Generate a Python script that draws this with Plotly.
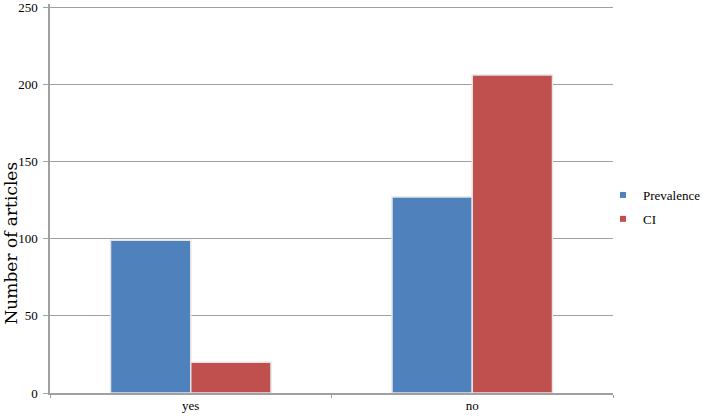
import plotly.graph_objects as go

categories = ["yes", "no"]
prevalence = [99, 127]
ci = [20, 206]
series_names = ["Prevalence", "CI"]
colors = ["#4F81BD", "#C0504D"]
y_ticks = [0, 50, 100, 150, 200, 250]
y_title = "Number of articles"

serif = "Liberation Serif, Times New Roman, serif"

fig = go.Figure()
for name, vals, col in zip(series_names, [prevalence, ci], colors):
    fig.add_trace(go.Bar(
        x=categories, y=vals, name=name, showlegend=False,
        marker=dict(color=col, line=dict(color="#E4E4E4", width=1.5)),
    ))
# legend proxies with small square markers
for name, col in zip(series_names, colors):
    fig.add_trace(go.Scatter(
        x=[None], y=[None], mode="markers", name=name, legendgroup=name,
        marker=dict(symbol="square", size=6, color=col),
    ))

fig.update_layout(
    width=702, height=417,
    margin=dict(l=50, r=89, t=4, b=24, autoexpand=False),
    paper_bgcolor="white", plot_bgcolor="white",
    barmode="group", bargap=0.43, bargroupgap=0.0,
    font=dict(family=serif, color="#000000", size=13),
    showlegend=True,
    legend=dict(xref="container", yref="container",
                x=603 / 702, y=1 - 207 / 417, xanchor="left", yanchor="middle",
                bgcolor="rgba(0,0,0,0)", font=dict(size=13, family=serif),
                itemwidth=30, tracegroupgap=4),
    xaxis=dict(showline=True, linecolor="#A0A0A0", linewidth=1.5,
               ticks="outside", ticklen=3, tickcolor="#A0A0A0",
               tickson="boundaries", showgrid=False, automargin=False,
               ticklabeloverflow="allow",
               tickfont=dict(size=13, family=serif)),
    yaxis=dict(range=[0, 252], tickvals=y_ticks, showline=True,
               linecolor="#A0A0A0", linewidth=1.5, gridcolor="#A0A0A0",
               gridwidth=1.2, ticks="outside", ticklen=5, tickcolor="#A0A0A0",
               zeroline=False, automargin=False, ticklabelstandoff=3,
               ticklabeloverflow="allow",
               tickfont=dict(size=13, family=serif)),
    annotations=[dict(
        text=y_title, textangle=-90, showarrow=False,
        xref="paper", yref="paper", x=-50 / 563, y=(393 - 243.5) / 389,
        xanchor="left", yanchor="middle", xshift=-1,
        font=dict(size=17, family="DejaVu Serif, serif", color="#000000"),
    )],
)
fig.write_html("out.html",
               config={"displayModeBar": False},
               post_script="document.body.style.margin='0px';document.body.style.overflow='hidden';")
